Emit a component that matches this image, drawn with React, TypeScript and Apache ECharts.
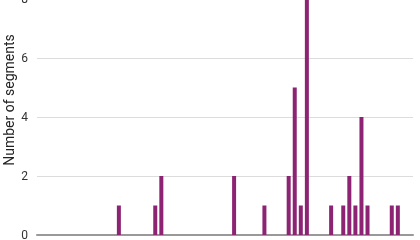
import React, { useEffect, useRef } from "react";
import * as echarts from "echarts";

const categoryCount = 62;
const categories: string[] = Array.from({ length: categoryCount }, (_, i) => String(i + 1));
const barIndices = [13, 19, 20, 32, 37, 41, 42, 43, 44, 48, 50, 51, 52, 53, 54, 58, 59];
const barValues = [1, 1, 2, 2, 1, 2, 5, 1, 8, 1, 1, 2, 1, 4, 1, 1, 1];
const yTicks = [0, 2, 4, 6, 8];
const yAxisTitle = "Number of segments";

export default function App() {
  const ref = useRef<HTMLDivElement>(null);
  useEffect(() => {
    if (!ref.current) return;
    const chart = echarts.init(ref.current, undefined, { renderer: "svg" });
    const values: number[] = categories.map(() => 0);
    barIndices.forEach((idx, k) => {
      values[idx] = barValues[k];
    });
    chart.setOption({
      animation: false,
      grid: {
        left: 37,
        right: 7,
        top: -1,
        bottom: 5,
        containLabel: false,
        outerBoundsMode: "none",
      },
      xAxis: {
        type: "category",
        data: categories,
        axisLine: { show: true, lineStyle: { color: "#999", width: 2 } },
        axisTick: { show: false },
        axisLabel: {
          interval: 1,
          rotate: 90,
          margin: 6,
          fontSize: 8,
          color: "#b0b0b0",
          fontFamily: "Roboto",
        },
        splitLine: { show: false },
      },
      yAxis: {
        type: "value",
        min: yTicks[0],
        max: yTicks[yTicks.length - 1],
        interval: 2,
        axisLine: { show: false },
        axisTick: { show: false },
        axisLabel: { color: "#333", fontSize: 12, margin: 9, fontFamily: "Roboto" },
        splitLine: { show: true, lineStyle: { color: "#dcdcdc", width: 1 } },
      },
      graphic: [
        {
          type: "text",
          x: 9,
          y: 100,
          rotation: Math.PI / 2,
          style: {
            text: yAxisTitle,
            fill: "#222",
            fontSize: 14,
            fontFamily: "Roboto",
            align: "center",
            verticalAlign: "middle",
          },
        },
      ],
      series: [
        {
          type: "bar",
          data: values,
          barWidth: 4,
          itemStyle: { color: "#8c2373" },
        },
      ],
    });
    return () => chart.dispose();
  }, []);
  return (
    <div
      ref={ref}
      style={{ position: "fixed", left: 0, top: 0, width: 420, height: 240 }}
    />
  );
}
